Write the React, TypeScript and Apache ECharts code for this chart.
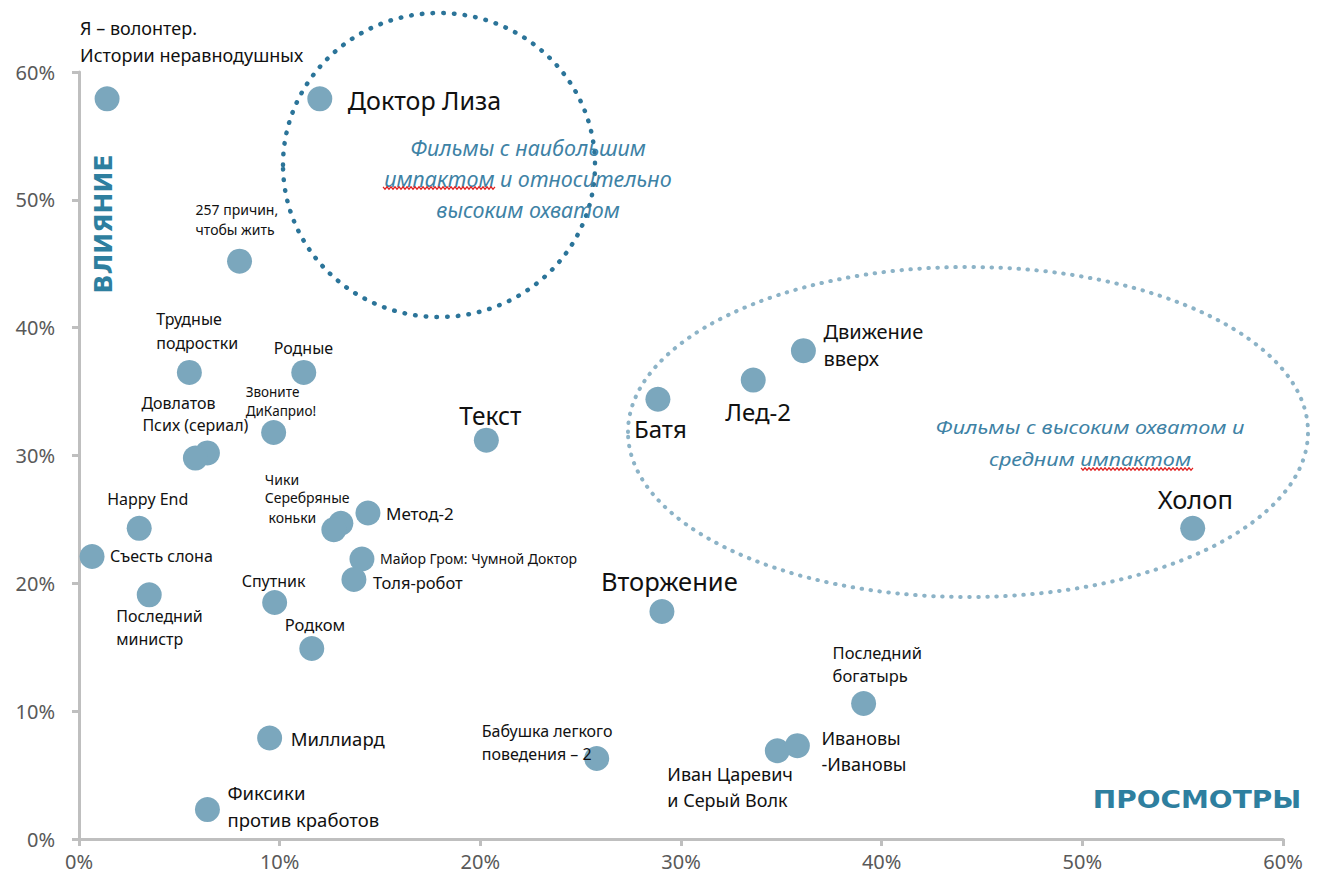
import React, { useEffect, useRef } from "react";
import * as echarts from "echarts";

// ---- data (x = просмотры %, y = влияние %) ----
const films: string[] = [
  "Я – волонтер.\nИстории неравнодушных",
  "Доктор Лиза",
  "257 причин,\nчтобы жить",
  "Трудные\nподростки",
  "Родные",
  "Звоните\nДиКаприо!",
  "Довлатов",
  "Псих (сериал)",
  "Текст",
  "Happy End",
  "Съесть слона",
  "Чики",
  "Серебряные\n коньки",
  "Метод-2",
  "Майор Гром: Чумной Доктор",
  "Толя-робот",
  "Последний\nминистр",
  "Спутник",
  "Родком",
  "Миллиард",
  "Фиксики\nпротив кработов",
  "Бабушка легкого\nповедения – 2",
  "Вторжение",
  "Батя",
  "Лед-2",
  "Движение\nвверх",
  "Холоп",
  "Последний\nбогатырь",
  "Иван Царевич\nи Серый Волк",
  "Ивановы\n-Ивановы",
];

const views: number[] = [
  1.4, 12.0, 8.0, 5.5, 11.2, 9.7, 6.4, 5.8, 20.3, 3.0,
  0.65, 13.05, 12.7, 14.4, 14.1, 13.7, 3.5, 9.75, 11.6, 9.5,
  6.4, 25.8, 29.05, 28.85, 33.6, 36.1, 55.5, 39.1, 34.8, 35.8,
];

const impact: number[] = [
  57.9, 57.9, 45.2, 36.5, 36.5, 31.8, 30.2, 29.8, 31.2, 24.3,
  22.1, 24.7, 24.2, 25.5, 21.9, 20.3, 19.1, 18.5, 14.9, 7.9,
  2.3, 6.3, 17.8, 34.4, 35.9, 38.2, 24.3, 10.6, 6.9, 7.3,
];

const axisTicks: number[] = [0, 10, 20, 30, 40, 50, 60];

// ---- label styling: [dx, dy, fontSize, lineHeight] relative to marker centre ----
const labelLayout: [number, number, number, number][] = [
  [-27, -57, 18, 27],
  [28, 1, 25, 30],
  [-44, -42, 14, 20],
  [-33, -41, 16, 24],
  [-30, -24, 16, 22],
  [-28, -31, 13.5, 19],
  [-66, -50, 16, 22],
  [-53, -33, 16, 22],
  [-27, -25, 24.5, 30],
  [-32, -29, 16, 22],
  [18, 0, 16, 22],
  [-76, -44, 14, 20],
  [-69, -22, 14, 20],
  [18, 0, 17, 22],
  [18, -1, 14, 20],
  [19, 3, 16.5, 22],
  [-33, 33, 16, 23],
  [-33, -22, 16, 22],
  [-27, -24, 16.5, 22],
  [21, 0, 18.5, 24],
  [20, -4, 18.5, 27],
  [-115, -16, 16, 23],
  [-61, -30, 25.5, 30],
  [-24, 29, 24, 30],
  [-28, 31, 24, 30],
  [20, -6, 20, 27],
  [-35, -29, 25.5, 30],
  [-31, -39, 16.5, 23],
  [-110, 36, 18, 26],
  [24, 5, 18, 26],
];

const SYMBOL = 25;
const FONT = "'Noto Sans', 'Open Sans', sans-serif";
const TITLE_COLOR = "#2E7F9F";

function wavy(x0: number, x1: number, y: number) {
  const pts: number[][] = [];
  let up = true;
  for (let x = x0; x <= x1; x += 2) {
    pts.push([x, up ? y - 1.2 : y + 1.2]);
    up = !up;
  }
  return pts;
}

export default function App() {
  const ref = useRef<HTMLDivElement>(null);

  useEffect(() => {
    if (!ref.current) return;
    const chart = echarts.init(ref.current, null, { renderer: "svg" });

    const data = films.map((name, i) => {
      const [dx, dy, fs, lh] = labelLayout[i];
      return {
        name,
        value: [views[i], impact[i]],
        label: {
          show: true,
          formatter: name,
          position: [SYMBOL / 2 + dx, SYMBOL / 2 + dy],
          align: "left",
          verticalAlign: "middle",
          fontSize: fs,
          lineHeight: lh,
          color: "#111",
          fontFamily: FONT,
        },
      };
    });

    const axisCommon = {
      type: "value",
      min: 0,
      max: 60,
      interval: 10,
      axisLine: { show: true, lineStyle: { color: "#BFBFBF", width: 3 } },
      axisTick: { show: true, length: 7, lineStyle: { color: "#BFBFBF", width: 3 } },
      splitLine: { show: false },
    };

    chart.setOption({
      animation: false,
      backgroundColor: "#fff",
      grid: { left: 79, right: 34, top: 72, bottom: 46, outerBoundsMode: "none" },
      xAxis: {
        ...axisCommon,
        axisLabel: {
          formatter: (v: number) => (axisTicks.includes(v) ? v + "%" : ""),
          fontSize: 20,
          color: "#595959",
          fontFamily: FONT,
          margin: 12,
        },
      },
      yAxis: {
        ...axisCommon,
        axisLabel: {
          formatter: (v: number) => (axisTicks.includes(v) ? v + "%" : ""),
          fontSize: 20,
          color: "#595959",
          fontFamily: FONT,
          margin: 24,
        },
      },
      series: [
        {
          type: "scatter",
          symbol: "circle",
          symbolSize: SYMBOL,
          itemStyle: { color: "#7BA7BD", opacity: 1 },
          z: 3,
          data,
        },
      ],
      graphic: [
        {
          type: "ellipse",
          z: 1,
          shape: { cx: 439, cy: 165, rx: 156, ry: 152 },
          style: {
            fill: "none",
            stroke: "#2B7499",
            lineWidth: 4.5,
            lineDash: [0.5, 10.2],
            lineCap: "round",
          },
        },
        {
          type: "ellipse",
          z: 1,
          shape: { cx: 968, cy: 432, rx: 340, ry: 165 },
          style: {
            fill: "none",
            stroke: "#8CB3C7",
            lineWidth: 4,
            lineDash: [0.5, 8.5],
            lineCap: "round",
          },
        },
        {
          type: "text",
          z: 5,
          x: 528,
          y: 178,
          style: {
            text: "Фильмы с наибольшим\nимпактом и относительно\nвысоким охватом",
            fontSize: 21.5,
            lineHeight: 31,
            fontStyle: "italic",
            fontFamily: FONT,
            fill: "#3E82A5",
            align: "center",
            verticalAlign: "middle",
          },
        },
        {
          type: "polyline",
          z: 5,
          shape: { points: wavy(383, 496, 188) },
          style: { stroke: "#E02020", lineWidth: 1.2, fill: "none" },
        },
        {
          type: "text",
          z: 5,
          x: 1090,
          y: 443,
          scaleX: 1.14,
          style: {
            text: "Фильмы с высоким охватом и\nсредним импактом",
            fontSize: 19,
            lineHeight: 32,
            fontStyle: "italic",
            fontFamily: FONT,
            fill: "#3E82A5",
            align: "center",
            verticalAlign: "middle",
          },
        },
        {
          type: "polyline",
          z: 5,
          shape: { points: wavy(1081, 1194, 469) },
          style: { stroke: "#E02020", lineWidth: 1.2, fill: "none" },
        },
        {
          type: "text",
          z: 5,
          x: 103,
          y: 224,
          rotation: Math.PI / 2,
          style: {
            text: "ВЛИЯНИЕ",
            fontSize: 25,
            fontWeight: "bold",
            fontFamily: "'DejaVu Sans', sans-serif",
            fill: TITLE_COLOR,
            align: "center",
            verticalAlign: "middle",
          },
        },
        {
          type: "text",
          z: 5,
          x: 1197,
          y: 799,
          scaleX: 1.12,
          style: {
            text: "ПРОСМОТРЫ",
            fontSize: 25,
            fontWeight: "bold",
            fontFamily: "'DejaVu Sans', sans-serif",
            fill: TITLE_COLOR,
            align: "center",
            verticalAlign: "middle",
          },
        },
      ],
    });

    return () => chart.dispose();
  }, []);

  return (
    <div
      ref={ref}
      style={{ position: "absolute", left: 0, top: 0, width: 1317, height: 885, background: "#fff" }}
    />
  );
}
